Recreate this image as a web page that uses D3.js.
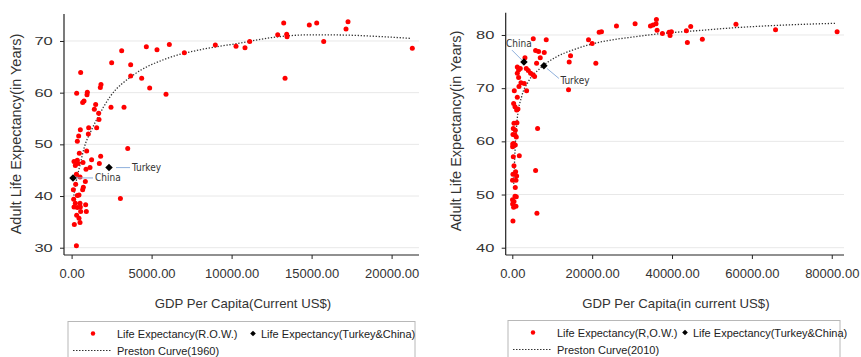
<!DOCTYPE html>
<html>
<head>
<meta charset="utf-8">
<script src="https://d3js.org/d3.v7.min.js"></script>
<style>
	body {margin: 0; background: #fff;}
	svg {display: block; font-family: "Liberation Sans", Arial, sans-serif;}
	.note {font-family: "Liberation Sans Narrow", "DejaVu Sans Condensed", sans-serif; font-size: 10px; fill: #333;}
</style>
</head>
<body>
<svg id="chart" width="861" height="357"></svg>

<script>
	// 1960 panel: rest of world (GDP per capita, life expectancy)
	var gdp1960 = [300,170,525,462,316,566,920,150,358,545,233,525,878,130,358,462,108,691,733,254,
		858,525,300,900,233,400,712,1150,1733,1816,483,941,150,358,3050,3508,358,441,1046,545,
		1066,1566,1712,1691,1420,1504,2462,3275,691,775,316,962,983,1795,1837,566,3692,4380,4880,5900,
		2504,3692,3130,4670,5337,6108,7046,8983,10275,10837,11131,12881,13256,13444,13465,13340,14856,15318,15756,17150,
		17275,21294,1250];
	var life1960 = [30.4,34.5,34.9,35.7,36.3,37.0,37.0,37.9,37.8,37.9,38.6,38.6,38.3,39.4,40.1,40.2,41.2,41.2,41.7,42.3,
		42.8,43.7,44.2,45.2,45.9,46.3,46.5,45.5,46.3,47.7,48.3,48.7,46.7,46.9,39.5,49.2,50.6,51.6,52.0,52.8,
		53.2,53.2,54.8,56.0,56.8,57.7,57.2,57.2,58.1,58.4,59.9,59.6,60.1,61.0,61.6,63.9,63.2,62.8,60.9,59.7,
		65.8,65.4,68.1,68.9,68.3,69.3,67.7,69.2,69.0,68.7,69.9,71.2,73.5,71.3,70.8,62.8,73.1,73.5,69.9,72.3,
		73.7,68.6,47.0];
	var tcNames = ["China", "Turkey"];
	var tcGdp1960 = [88, 2338];
	var tcLife1960 = [43.5, 45.5];
	var curveGdp1960 = [110,300,525,800,1200,1600,2400,3858,5940,8025,10325,12881,15000,17000,19000,21200];
	var curveLife1960 = [39.5,43.0,46.0,49.5,52.5,55.0,59.2,63.4,66.6,68.3,69.5,70.8,71.2,71.15,70.9,70.5];
	var xTicks1960 = [0,5000,10000,15000,20000];
	var yTicks1960 = [30,40,50,60,70];

	// 2010 panel
	var gdp2010 = [167,6167,333,917,83,1000,50,750,50,917,1083,167,833,5833,417,250,1750,83,750,333,
		1000,167,750,250,6333,417,1167,1083,1417,667,333,1250,500,3583,14083,1667,2167,3000,1583,1250,
		1583,1250,2000,3500,4000,4583,5167,5583,3167,5250,5833,6583,8000,7000,6083,8500,14250,14583,19083,20000,
		20917,21750,22333,26083,30750,34600,35250,36092,36000,36258,37592,39258,39842,39508,43592,44675,43842,47592,56008,65925,
		81342,675,100,425,675];
	var life2010 = [45.0,46.5,47.6,47.8,48.2,49.6,49.0,51.3,52.7,52.7,53.5,53.8,54.3,54.5,55.4,57.1,57.3,59.0,59.3,59.6,
		60.8,61.3,62.1,62.4,62.4,63.4,63.5,65.9,66.1,66.5,67.1,68.3,69.5,69.5,69.7,70.3,71.0,70.9,72.0,72.8,
		73.4,74.0,73.7,73.7,73.3,72.8,72.5,72.2,75.7,79.3,77.1,76.9,76.7,75.7,74.7,79.1,74.9,76.1,79.1,78.4,
		74.7,80.5,80.6,81.7,82.1,81.7,81.9,82.9,82.1,80.9,80.3,80.5,80.6,79.9,80.8,81.6,78.6,79.2,82.0,81.0,
		80.6,61.2,59.5,48.7,49.7];
	var tcGdp2010 = [2917, 7917];
	var tcLife2010 = [74.9, 74.2];
	var curveGdp2010 = [350,550,800,1250,2333,4000,6917,11083,15250,19417,23583,30000,37758,46092,54425,66092,81092];
	var curveLife2010 = [52.0,56.0,60.0,64.3,68.4,71.2,73.7,75.9,77.2,78.2,78.9,79.6,80.3,80.8,81.3,81.8,82.2];
	var xTicks2010 = [0,20000,40000,60000,80000];
	var yTicks2010 = [40,50,60,70,80];

	var svg = d3.select("#chart");
	var fmt = d3.format(".2f");

	var drawPanel = function (p) {
		var x = d3.scaleLinear().domain(p.xDomain).range([p.left, p.right]);
		var y = d3.scaleLinear().domain(p.yDomain).range([p.bottom, p.top]);
		var g = svg.append("g");

		// grid
		g.selectAll("line.grid").data(p.yTicks).enter().append("line")
			.attr("x1", p.left).attr("x2", p.right)
			.attr("y1", function (d) { return y(d); }).attr("y2", function (d) { return y(d); })
			.attr("stroke", "#e8e8e8").attr("stroke-width", 1);

		// axes
		var yAxis = g.append("g").attr("transform", "translate(" + p.left + ",0)")
			.call(d3.axisLeft(y).tickValues(p.yTicks).tickSize(4).tickSizeOuter(0));
		yAxis.selectAll("text")
			.attr("font-size", 11).attr("fill", "#333")
			.attr("font-family", "Liberation Sans, Arial, sans-serif")
			.attr("x", -7.5).attr("transform", "scale(1.5,1)");
		var xAxis = g.append("g").attr("transform", "translate(0," + p.bottom + ")")
			.call(d3.axisBottom(x).tickValues(p.xTicks).tickFormat(fmt).tickSize(4).tickPadding(10).tickSizeOuter(0));
		xAxis.selectAll("text").attr("font-size", 13).attr("fill", "#333")
			.attr("font-family", "Liberation Sans, Arial, sans-serif");
		[yAxis, xAxis].forEach(function (a) {
			a.select(".domain").attr("stroke", "#222").attr("stroke-width", 1.2);
			a.selectAll(".tick line").attr("stroke", "#222");
		});
		xAxis.select(".domain").attr("d", "M" + p.left + ",0H" + p.right);
		yAxis.select(".domain").attr("d", "M0," + p.top + "V" + p.bottom);

		// titles
		g.append("text").attr("x", (p.left + p.right) / 2 + p.xTitleShift).attr("y", 308)
			.attr("text-anchor", "middle").attr("font-size", 13.2).attr("fill", "#333")
			.text(p.xTitle);
		g.append("text").attr("transform", "translate(" + p.yTitleX + "," + p.yTitleY + ") rotate(-90)")
			.attr("text-anchor", "middle").attr("font-size", 14.5).attr("fill", "#333")
			.text("Adult Life Expectancy(in Years)");

		// preston curve
		var line = d3.line().curve(d3.curveMonotoneX)
			.x(function (d) { return x(d[0]); }).y(function (d) { return y(d[1]); });
		g.append("path").datum(d3.zip(p.curveGdp, p.curveLife))
			.attr("d", line).attr("fill", "none")
			.attr("stroke", "#333").attr("stroke-width", 1.3).attr("stroke-dasharray", "1.3,1.7");

		// rest of world
		g.selectAll("circle.row").data(d3.zip(p.gdp, p.life)).enter().append("circle")
			.attr("cx", function (d) { return x(d[0]); })
			.attr("cy", function (d) { return y(d[1]); })
			.attr("r", 2.5).attr("fill", "#ff0000");

		// turkey & china (square turned 45 degrees)
		var diamond = d3.symbol().type(d3.symbolSquare).size(28);
		var tc = d3.zip(tcNames, p.tcGdp, p.tcLife);
		tc.forEach(function (d, i) {
			var cx = x(d[1]), cy = y(d[2]);
			var n = p.notes[i];
			g.append("line").attr("x1", cx + n[0]).attr("y1", cy + n[1]).attr("x2", cx + n[2]).attr("y2", cy + n[3])
				.attr("stroke", "#8fb0dc").attr("stroke-width", 1);
			g.append("text").attr("class", "note").attr("x", cx + n[4]).attr("y", cy + n[5])
				.attr("dy", "0.35em").text(d[0]);
			g.append("path").attr("d", diamond).attr("transform", "translate(" + cx + "," + cy + ") rotate(45)")
				.attr("fill", "#000");
		});

		// legend
		var L = p.legend;
		g.append("rect").attr("x", L.x).attr("y", L.y).attr("width", L.w).attr("height", 50)
			.attr("fill", "none").attr("stroke", "#b8b8b8").attr("stroke-width", 1);
		g.append("circle").attr("cx", L.x + 25).attr("cy", L.y + 12).attr("r", 2.2).attr("fill", "#ff0000");
		g.append("text").attr("x", L.x + 49).attr("y", L.y + 16).attr("font-size", 11).attr("fill", "#222")
			.text(p.rowLabel);
		g.append("path").attr("d", d3.symbol().type(d3.symbolSquare).size(16))
			.attr("transform", "translate(" + (L.x + L.dx) + "," + (L.y + 12) + ") rotate(45)").attr("fill", "#000");
		g.append("text").attr("x", L.x + L.dx + 8).attr("y", L.y + 16).attr("font-size", 11).attr("fill", "#222")
			.text("Life Expectancy(Turkey&China)");
		g.append("line").attr("x1", L.x + 5).attr("x2", L.x + 44).attr("y1", L.y + 29).attr("y2", L.y + 29)
			.attr("stroke", "#333").attr("stroke-width", 1).attr("stroke-dasharray", "1.5,1.5");
		g.append("text").attr("x", L.x + 49).attr("y", L.y + 33).attr("font-size", 11).attr("fill", "#222")
			.text(p.curveLabel);
	};

	drawPanel({
		left: 64, right: 419, top: 14, bottom: 255,
		xDomain: [-475, 21712], yDomain: [28.59, 75.22],
		xTicks: xTicks1960, yTicks: yTicks1960,
		gdp: gdp1960, life: life1960, tcGdp: tcGdp1960, tcLife: tcLife1960,
		curveGdp: curveGdp1960, curveLife: curveLife1960,
		xTitle: "GDP Per Capita(Current US$)", xTitleShift: 1.5, yTitleX: 21, yTitleY: 134,
		notes: [[3, 0, 20, 0, 22, 0], [7, 0, 21, 0, 23, 0]],
		legend: {x: 68, y: 321.5, w: 347, dx: 185},
		rowLabel: "Life Expectancy(R.O.W.)", curveLabel: "Preston Curve(1960)"
	});

	drawPanel({
		left: 505.7, right: 844, top: 12.7, bottom: 255,
		xDomain: [-1653, 83068], yDomain: [38.63, 84.19],
		xTicks: xTicks2010, yTicks: yTicks2010,
		gdp: gdp2010, life: life2010, tcGdp: tcGdp2010, tcLife: tcLife2010,
		curveGdp: curveGdp2010, curveLife: curveLife2010,
		xTitle: "GDP Per Capita(in current US$)", xTitleShift: 1, yTitleX: 461, yTitleY: 131,
		notes: [[-2, -2, -12, -12, -18, -18.5], [3, 2.6, 15, 12.6, 16.5, 15]],
		legend: {x: 508, y: 320.5, w: 332, dx: 177},
		rowLabel: "Life Expectancy(R,O.W.)", curveLabel: "Preston Curve(2010)"
	});
</script>
</body>
</html>
